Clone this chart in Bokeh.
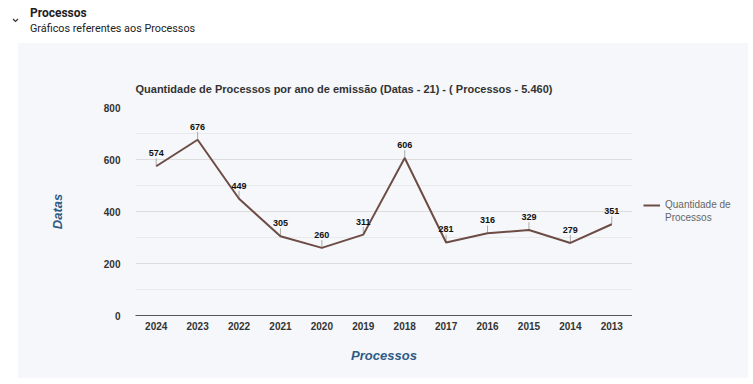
from bokeh.plotting import figure
from bokeh.models import (ColumnDataSource, LabelSet, Legend, LegendItem, FixedTicker, Div, Spacer)
from bokeh.core.properties import value
from bokeh.layouts import column, row
from bokeh.embed import file_html
from bokeh.resources import INLINE

years = ["2024", "2023", "2022", "2021", "2020", "2019", "2018", "2017", "2016", "2015", "2014", "2013"]
values = [574, 676, 449, 305, 260, 311, 606, 281, 316, 329, 279, 351]
y_ticks = [0, 200, 400, 600, 800]
y_minor = [100, 300, 500, 700]
series_name_lines = ["Quantidade de", "Processos"]
chart_title = "Quantidade de Processos por ano de emissão (Datas - 21) - ( Processos - 5.460)"
header_title = "Processos"
header_sub = "Gráficos referentes aos Processos"

PANEL = "#f5f7fa"
LINE_COLOR = "#6d4c45"
H = 335
PW, LW = 614, 116
ML, MT, MB = 117, 64, 63

p = figure(width=PW, height=H, x_range=years, y_range=(0, 800),
           output_backend="svg", toolbar_location=None,
           min_border_left=ML, min_border_right=0, min_border_top=MT, min_border_bottom=MB,
           background_fill_color=PANEL, border_fill_color=PANEL, outline_line_color=None)

p.title.text = chart_title
p.title.align = "left"
p.title.text_font = "Liberation Sans"
p.title.text_font_size = "11px"
p.title.text_font_style = "bold"
p.title.text_color = "#333333"
p.title.standoff = 25

src = ColumnDataSource(dict(x=years, y=values, txt=[str(v) for v in values],
                            y1=[v + 30 for v in values]))

p.segment(x0="x", y0="y", x1="x", y1="y1", source=src, line_color="#aaaaaa", line_width=1)
p.line(x="x", y="y", source=src, line_color=LINE_COLOR, line_width=2)

p.add_layout(LabelSet(x="x", y="y", text="txt", source=src, y_offset=10,
                      text_align="center", text_baseline="alphabetic",
                      text_font=value("Liberation Sans"), text_font_size="9px",
                      text_font_style="bold", text_color="#111111"))

p.yaxis.ticker = FixedTicker(ticks=y_ticks, minor_ticks=y_minor)
p.yaxis.axis_line_color = None
p.yaxis.major_tick_line_color = None
p.yaxis.minor_tick_line_color = None
p.yaxis.major_tick_out = 0
p.yaxis.major_label_standoff = 11
p.yaxis.axis_label = "Datas"
p.yaxis.axis_label_standoff = 36
p.xaxis.axis_label = "Processos"
p.xaxis.axis_label_standoff = 15
p.xaxis.major_tick_line_color = None
p.xaxis.minor_tick_line_color = None
p.xaxis.major_tick_out = 0
p.xaxis.axis_line_color = "#555555"
p.xaxis.major_label_standoff = 6
for ax in (p.xaxis, p.yaxis):
    ax.major_label_text_font = "Liberation Sans"
    ax.major_label_text_font_size = "10px"
    ax.major_label_text_font_style = "bold"
    ax.major_label_text_color = "#333333"
    ax.axis_label_text_font = "Liberation Sans"
    ax.axis_label_text_font_size = "13px"
    ax.axis_label_text_font_style = "bold italic"
    ax.axis_label_text_color = "#2f5b87"

p.xgrid.grid_line_color = None
p.ygrid.grid_line_color = "#dddddd"
p.ygrid.minor_grid_line_color = "#e9eaec"

# legend panel on the right (separate figure; its series lies outside its visible range)
lf = figure(width=LW, height=H, x_range=years, y_range=(5000, 6000),
            output_backend="svg", toolbar_location=None,
            min_border_left=0, min_border_right=0, min_border_top=8, min_border_bottom=0,
            background_fill_color=PANEL, border_fill_color=PANEL, outline_line_color=None)
lf.axis.visible = False
lf.grid.visible = False
lline = lf.line(x="x", y="y", source=src, line_color=LINE_COLOR, line_width=2)
lghost = lf.line(x="x", y="y", source=src, line_alpha=0)
legend = Legend(items=[LegendItem(label=series_name_lines[0], renderers=[lline]),
                       LegendItem(label=series_name_lines[1], renderers=[lghost])],
                location="center_left", orientation="vertical",
                background_fill_alpha=0, border_line_color=None,
                label_text_font="Liberation Sans", label_text_font_size="10px",
                label_text_color="#666666", glyph_width=17, glyph_height=10,
                label_height=10, spacing=2, label_standoff=5,
                margin=11, padding=0)
lf.add_layout(legend, "center")

header_html = f"""
<div style="position:relative;width:753px;height:43px;font-family:Roboto;color:#222;">
  <span style="position:absolute;left:30px;top:5px;font-size:12px;font-weight:bold;white-space:nowrap;">{header_title}</span>
  <span style="position:absolute;left:30px;top:21px;font-size:10.8px;white-space:nowrap;">{header_sub}</span>
  <svg style="position:absolute;left:12px;top:18px;" width="7" height="5" viewBox="0 0 7 5">
    <polyline points="1,1 3.5,3.5 6,1" fill="none" stroke="#333" stroke-width="1.2"/>
  </svg>
</div>
"""
header = Div(text=header_html, width=753, height=43, margin=0)
panel = row(p, lf, spacing=0, styles={"background-color": PANEL})
layout = column(header, row(Spacer(width=18, height=H, margin=0), panel, spacing=0), spacing=0)

open("out.html", "w").write(file_html(layout, INLINE))
